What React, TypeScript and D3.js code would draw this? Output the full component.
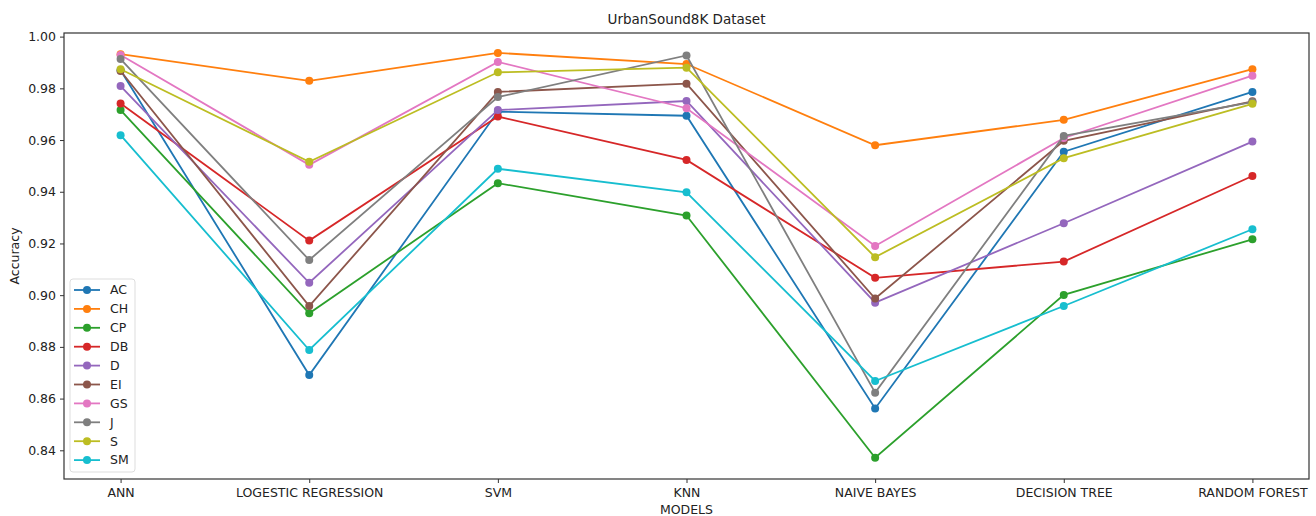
import React, { useEffect, useRef } from 'react';
import * as d3 from 'd3';

const models = ['ANN', 'LOGESTIC REGRESSION', 'SVM', 'KNN', 'NAIVE BAYES', 'DECISION TREE', 'RANDOM FOREST'];
const seriesNames = ['AC', 'CH', 'CP', 'DB', 'D', 'EI', 'GS', 'J', 'S', 'SM'];
const colors = ['#1f77b4', '#ff7f0e', '#2ca02c', '#d62728', '#9467bd', '#8c564b', '#e377c2', '#7f7f7f', '#bcbd22', '#17becf'];

const AC = [0.987, 0.8691, 0.9710, 0.9694, 0.8562, 0.9555, 0.9786];
const CH = [0.9932, 0.9829, 0.9937, 0.9894, 0.9580, 0.9678, 0.9874];
const CP = [0.9716, 0.8930, 0.9433, 0.9308, 0.8371, 0.9001, 0.9216];
const DB = [0.9741, 0.9211, 0.9691, 0.9523, 0.9067, 0.9130, 0.9461];
const D = [0.9809, 0.9048, 0.9716, 0.9751, 0.8971, 0.9278, 0.9594];
const EI = [0.9867, 0.8958, 0.9786, 0.9818, 0.8987, 0.9597, 0.9750];
const GS = [0.9929, 0.9504, 0.9902, 0.9723, 0.9190, 0.9608, 0.9849];
const J = [0.9913, 0.9136, 0.9766, 0.9927, 0.8623, 0.9616, 0.9747];
const S = [0.9874, 0.9516, 0.9862, 0.9880, 0.9147, 0.9530, 0.9740];
const SM = [0.9619, 0.8788, 0.9489, 0.9398, 0.8668, 0.8958, 0.9255];

const series = [AC, CH, CP, DB, D, EI, GS, J, S, SM];
const yTicks = [0.84, 0.86, 0.88, 0.90, 0.92, 0.94, 0.96, 0.98, 1.00];

const App = () => {
  const svgRef = useRef<SVGSVGElement>(null);

  useEffect(() => {
    const svg = d3.select(svgRef.current);
    svg.selectAll('*').remove();

    const left = 64, right = 1309, top = 33, bottom = 479;
    const font = 'DejaVu Sans, sans-serif';

    // categorical positions with matplotlib-like margins
    const x = d3.scaleLinear().domain([-0.3, models.length - 0.7]).range([left, right]);
    const y = d3.scaleLinear().domain([0.8289, 1.0014]).range([bottom, top]);

    const g = svg.append('g');

    // axes
    const yAxis = g.append('g')
      .attr('transform', `translate(${left},0)`)
      .call(d3.axisLeft(y).tickValues(yTicks).tickFormat(d3.format('.2f')).tickSize(4).tickPadding(4));
    const xAxis = g.append('g')
      .attr('transform', `translate(0,${bottom})`)
      .call(d3.axisBottom(x).tickValues(d3.range(models.length)).tickFormat((i: any) => models[i]).tickSize(4).tickPadding(5));
    [yAxis, xAxis].forEach(a => {
      a.select('.domain').remove();
      a.selectAll('line').attr('stroke', '#333');
      a.selectAll('text').attr('font-family', font).attr('font-size', 12.5).attr('fill', '#222');
    });

    // frame
    g.append('rect')
      .attr('x', left).attr('y', top)
      .attr('width', right - left).attr('height', bottom - top)
      .attr('fill', 'none').attr('stroke', '#333').attr('stroke-width', 1.2);

    const line = d3.line<number>()
      .x((_, i) => x(i))
      .y(d => y(d));

    series.forEach((vals, s) => {
      g.append('path')
        .datum(vals)
        .attr('d', line)
        .attr('fill', 'none')
        .attr('stroke', colors[s])
        .attr('stroke-width', 1.8);
      g.selectAll(null)
        .data(vals)
        .enter().append('circle')
        .attr('cx', (_, i) => x(i))
        .attr('cy', d => y(d))
        .attr('r', 4)
        .attr('fill', colors[s]);
    });

    // title and labels
    svg.append('text')
      .attr('x', (left + right) / 2).attr('y', 24)
      .attr('text-anchor', 'middle')
      .attr('font-family', font).attr('font-size', 13.5).attr('fill', '#222')
      .text('UrbanSound8K Dataset');
    svg.append('text')
      .attr('x', (left + right) / 2).attr('y', 514)
      .attr('text-anchor', 'middle')
      .attr('font-family', font).attr('font-size', 12.5).attr('fill', '#222')
      .text('MODELS');
    svg.append('text')
      .attr('transform', `translate(19,${(top + bottom) / 2}) rotate(-90)`)
      .attr('text-anchor', 'middle')
      .attr('font-family', font).attr('font-size', 12.5).attr('fill', '#222')
      .text('Accuracy');

    // legend
    const lg = svg.append('g').attr('transform', 'translate(70,279)');
    lg.append('rect')
      .attr('width', 65).attr('height', 193).attr('rx', 3)
      .attr('fill', 'white').attr('stroke', '#ddd');
    seriesNames.forEach((name, i) => {
      const ly = 11 + i * 18.9;
      lg.append('line')
        .attr('x1', 4).attr('x2', 30).attr('y1', ly).attr('y2', ly)
        .attr('stroke', colors[i]).attr('stroke-width', 1.8);
      lg.append('circle').attr('cx', 17).attr('cy', ly).attr('r', 4).attr('fill', colors[i]);
      lg.append('text')
        .attr('x', 40).attr('y', ly).attr('dy', '0.35em')
        .attr('font-family', font).attr('font-size', 12.5).attr('fill', '#222')
        .text(name);
    });
  }, []);

  return (
    <svg ref={svgRef} width={1316} height={516} style={{ position: 'absolute', left: 0, top: 0, background: 'white' }} />
  );
};

export default App;
